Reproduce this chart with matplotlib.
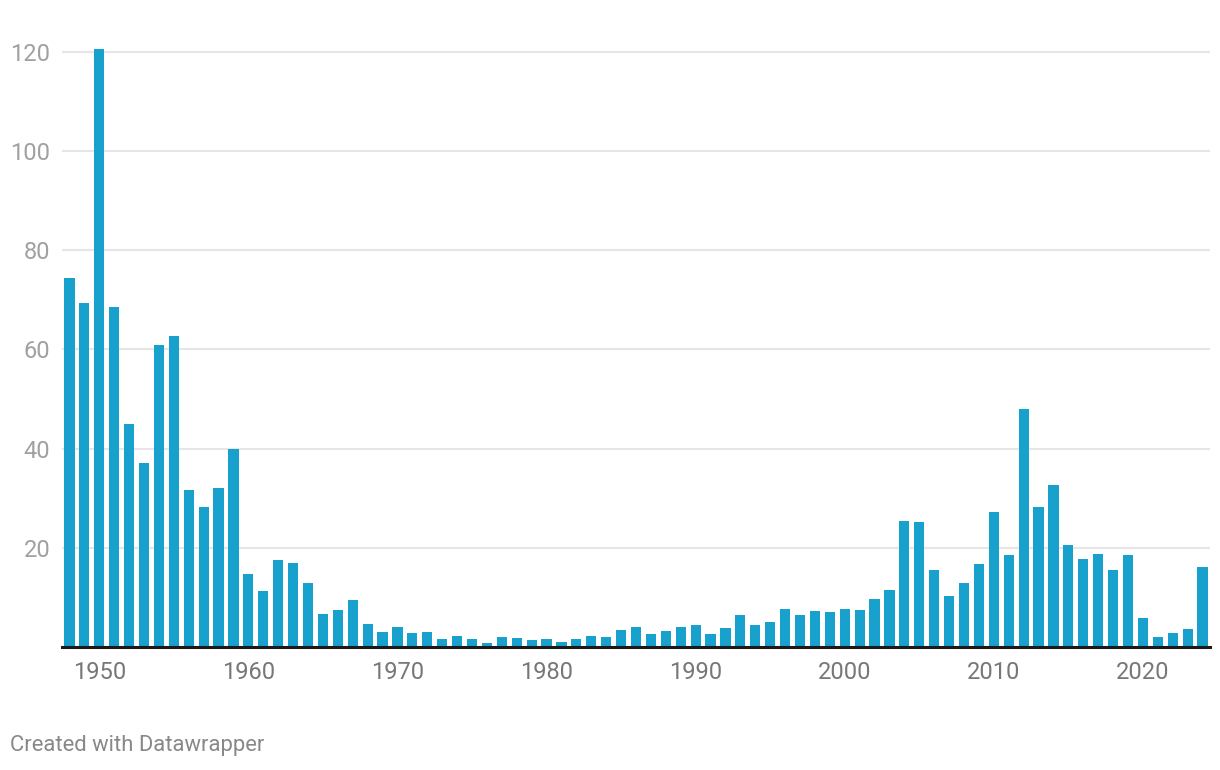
import matplotlib
matplotlib.use("Agg")
import matplotlib.pyplot as plt

years = list(range(1948, 2025))
values = [
    74.5, 69.3, 120.6, 68.5, 45.0, 37.1, 60.9, 62.7, 31.7, 28.2,   # 1948-1957
    32.1, 39.9, 14.7, 11.3, 17.5, 16.9, 12.9, 6.6, 7.4, 9.5,        # 1958-1967
    4.6, 3.0, 4.0, 2.8, 3.0, 1.6, 2.2, 1.6, 0.8, 2.0,                # 1968-1977
    1.8, 1.4, 1.6, 1.0, 1.6, 2.2, 2.0, 3.4, 4.0, 2.6,                # 1978-1987
    3.2, 4.0, 4.4, 2.6, 3.8, 6.4, 4.4, 5.0, 7.6, 6.4,                # 1988-1997
    7.2, 7.0, 7.6, 7.4, 9.6, 11.4, 25.5, 25.3, 15.5, 10.2,           # 1998-2007
    13.0, 16.7, 27.3, 18.5, 48.0, 28.3, 32.7, 20.5, 17.7, 18.7,      # 2008-2017
    15.5, 18.5, 5.8, 2.0, 2.8, 3.6, 16.1,                            # 2018-2024
]
y_ticks = [20, 40, 60, 80, 100, 120]
x_ticks = [1950, 1960, 1970, 1980, 1990, 2000, 2010, 2020]

plt.rcParams['font.family'] = ['Roboto', 'DejaVu Sans']

fig = plt.figure(figsize=(12.2, 7.7), dpi=100)
ax = fig.add_axes([62 / 1220, (770 - 647) / 770, (1210 - 62) / 1220, 605 / 770])

ax.bar(years, values, width=0.68, color='#18a1cd', zorder=3)

ax.set_xlim(1947.5, 2024.5)
ax.set_ylim(0, 122)
ax.set_yticks(y_ticks)
ax.set_xticks(x_ticks)
ax.set_xticklabels([str(x) for x in x_ticks])

ax.grid(axis='y', color='#e6e6e6', linewidth=1.5, zorder=0)
ax.grid(axis='x', visible=False)
for s in ['top', 'right', 'left']:
    ax.spines[s].set_visible(False)
ax.spines['bottom'].set_color('#1a1a1a')
ax.spines['bottom'].set_linewidth(2.2)
ax.spines['bottom'].set_zorder(4)

ax.tick_params(axis='y', length=0, pad=8.5, labelsize=17, labelcolor='#a0a0a0')
ax.tick_params(axis='x', length=0, pad=10, labelsize=17, labelcolor='#777777')

fig.text(10 / 1220, 1 - 746 / 770, 'Created with Datawrapper', fontsize=15.8,
         color='#888888', ha='left', va='center')

fig.savefig('out.png', dpi=100)
